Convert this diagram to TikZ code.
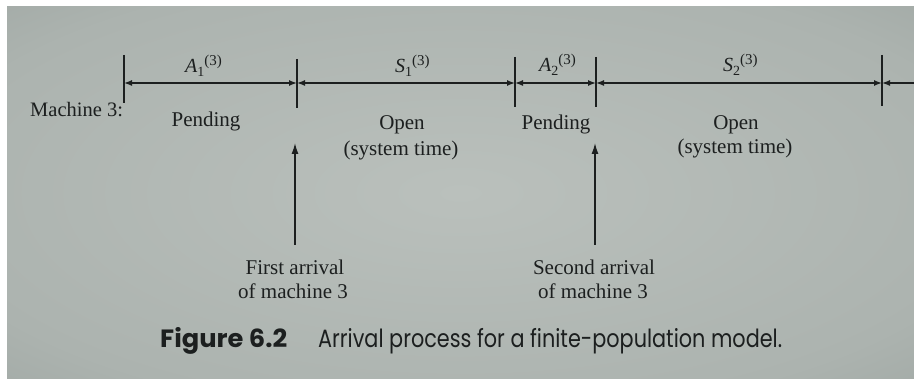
\documentclass[tikz,border=0pt]{standalone}
\usepackage{graphicx}
\usepackage{fontspec}
\setmainfont{Liberation Serif}
\newfontfamily\capfont{Poppins}
\usetikzlibrary{arrows.meta}
\definecolor{ink}{RGB}{28,31,31}
\definecolor{bgin}{RGB}{186,192,188}
\definecolor{bgmid}{RGB}{172,179,175}
\definecolor{bgout}{RGB}{122,132,129}
\pgfdeclareradialshading{vign}{\pgfpoint{0bp}{0bp}}{color(0bp)=(bgin); color(30bp)=(bgmid); color(71bp)=(bgout)}
\newcommand\seglab[2]{\textit{#1}\raisebox{-4pt}{\fontsize{14}{14}\selectfont #2}\raisebox{7pt}{\fontsize{15}{15}\selectfont (3)}}
\begin{document}
\begin{tikzpicture}[x=1pt,y=-1pt,
  txt/.style={text=ink,inner sep=0pt,font=\fontsize{21}{21}\selectfont},
  segtxt/.style={text=ink,inner sep=0pt,anchor=base west,font=\fontsize{20}{20}\selectfont},
  tickline/.style={draw=ink,line width=1.4pt},
  dimline/.style={draw=ink,line width=1.4pt,{Latex[length=8pt,width=6pt]}-{Latex[length=8pt,width=6pt]}},
  openline/.style={draw=ink,line width=1.4pt,{Latex[length=8pt,width=6pt]}-},
  uparrow/.style={draw=ink,line width=1.4pt,-{Latex[length=11pt,width=7pt]}}]
\useasboundingbox (0,0) rectangle (914,379);
\fill[white] (0,0) rectangle (914,379);
\shade[shading=vign] (7,7) rectangle (914,379);
% tick marks
\coordinate (t1a) at (124,55); \coordinate (t1b) at (124,103);
\coordinate (t2a) at (297,59); \coordinate (t2b) at (297,108);
\coordinate (t3a) at (515,57); \coordinate (t3b) at (515,107);
\coordinate (t4a) at (596,57); \coordinate (t4b) at (596,107);
\coordinate (t5a) at (882,55); \coordinate (t5b) at (882,106);
\draw[tickline] (t1a) -- (t1b);
\draw[tickline] (t2a) -- (t2b);
\draw[tickline] (t3a) -- (t3b);
\draw[tickline] (t4a) -- (t4b);
\draw[tickline] (t5a) -- (t5b);
% time axis
\coordinate (p1) at (124,83); \coordinate (p2) at (297,83);
\coordinate (p3) at (515,83); \coordinate (p4) at (596,83);
\coordinate (p5) at (882,83); \coordinate (pend) at (914,83);
\draw[dimline] (p1) -- (p2);
\draw[dimline] (p2) -- (p3);
\draw[dimline] (p3) -- (p4);
\draw[dimline] (p4) -- (p5);
\draw[openline] (p5) -- (pend);
% segment labels
\node[segtxt] (la1) at (185,73) {\seglab{A}{1}};
\node[segtxt] (ls1) at (395,73) {\seglab{S}{1}};
\node[segtxt] (la2) at (539,72) {\seglab{A}{2}};
\node[segtxt] (ls2) at (723,72) {\seglab{S}{2}};
% row texts
\node[txt,anchor=base west,font=\fontsize{20.5}{20.5}\selectfont] (mach) at (30,117) {Machine 3:};
\node[txt,anchor=base] (pend1) at (206,127) {Pending};
\node[txt,anchor=base] (open1) at (402,130) {Open};
\node[txt,anchor=base] (sys1) at (401,156) {(system time)};
\node[txt,anchor=base] (pend2) at (556,130) {Pending};
\node[txt,anchor=base] (open2) at (736,130) {Open};
\node[txt,anchor=base] (sys2) at (735,154) {(system time)};
% arrivals
\coordinate (u1b) at (295,245); \coordinate (u1t) at (295,143);
\coordinate (u2b) at (595,245); \coordinate (u2t) at (595,143);
\draw[uparrow] (u1b) -- (u1t);
\draw[uparrow] (u2b) -- (u2t);
\node[txt,anchor=base] (f1) at (295,275) {First arrival};
\node[txt,anchor=base] (f2) at (293,299) {of machine 3};
\node[txt,anchor=base] (s1) at (594,275) {Second arrival};
\node[txt,anchor=base] (s2) at (593,299) {of machine 3};
% caption
\node[text=ink,inner sep=0pt,anchor=base west] (capa) at (160,348) {\resizebox{127pt}{\height}{\capfont\bfseries\fontsize{25}{25}\selectfont Figure 6.2}};
\node[text=ink,inner sep=0pt,anchor=base west] (capb) at (318,348) {\resizebox{464pt}{\height}{\capfont\fontsize{25}{25}\selectfont Arrival process for a finite-population model.}};
\end{tikzpicture}
\end{document}
